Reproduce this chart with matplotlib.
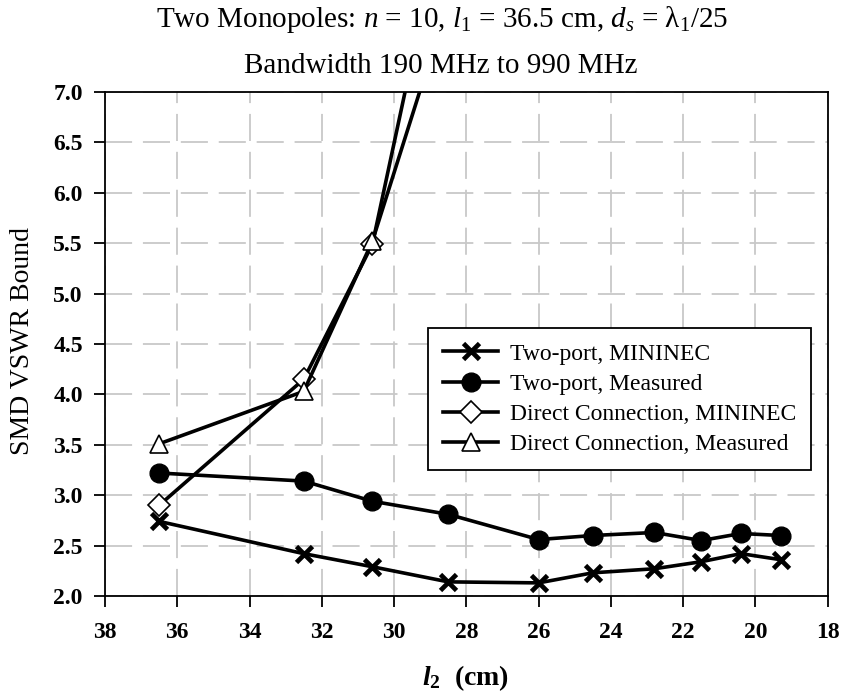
import matplotlib
matplotlib.use("Agg")
import matplotlib.pyplot as plt

plt.rcParams['font.family'] = ['Liberation Serif', 'DejaVu Serif']
plt.rcParams['mathtext.fontset'] = 'custom'
plt.rcParams['mathtext.rm'] = 'Liberation Serif'
plt.rcParams['mathtext.it'] = 'Liberation Serif:italic'
plt.rcParams['mathtext.bf'] = 'Liberation Serif:bold'
plt.rcParams['mathtext.bfit'] = 'Liberation Serif:bold:italic'

# data
l2_twoport = [36.5, 32.5, 30.6, 28.5, 26.0, 24.5, 22.8, 21.5, 20.4, 19.3]
twoport_mininec = [2.74, 2.42, 2.29, 2.14, 2.13, 2.23, 2.27, 2.34, 2.42, 2.36]
twoport_measured = [3.22, 3.14, 2.94, 2.81, 2.56, 2.60, 2.63, 2.55, 2.62, 2.60]

l2_direct = [36.5, 32.5, 30.6, 28.5]
direct_mininec = [2.90, 4.15, 5.49, 9.0]
direct_measured = [3.51, 4.03, 5.52, 7.9]

labels = ['Two-port, MININEC', 'Two-port, Measured',
          'Direct Connection, MININEC', 'Direct Connection, Measured']

xticks = [38, 36, 34, 32, 30, 28, 26, 24, 22, 20, 18]
yticks = [2.0, 2.5, 3.0, 3.5, 4.0, 4.5, 5.0, 5.5, 6.0, 6.5, 7.0]

fig = plt.figure(figsize=(8.44, 6.96), dpi=100)
ax = fig.add_axes([0.1244, 0.1437, 0.8563, 0.7241])

lw = 2.6
ax.plot(l2_twoport, twoport_mininec, color='black', lw=lw, marker='x',
        ms=12, mew=3.4, label=labels[0], zorder=3)
ax.plot(l2_twoport, twoport_measured, color='black', lw=lw, marker='o',
        ms=13.5, mfc='black', mec='black', label=labels[1], zorder=3)
ax.plot(l2_direct, direct_mininec, color='black', lw=lw, marker='D',
        ms=11.5, mfc='white', mec='black', mew=1.2, label=labels[2], zorder=3)
ax.plot(l2_direct, direct_measured, color='black', lw=lw, marker='^',
        ms=13, mfc='white', mec='black', mew=1.2, label=labels[3], zorder=3)

ax.set_xlim(38, 18)
ax.set_ylim(2.0, 7.0)
ax.set_xticks(xticks)
ax.set_yticks(yticks)
ax.set_xticklabels([str(t) for t in xticks], fontsize=17, fontweight='bold')
ax.set_yticklabels(['%.1f' % t for t in yticks], fontsize=17, fontweight='bold')
ax.tick_params(direction='out', length=8, width=1.3)
ax.tick_params(axis='x', pad=11)
ax.tick_params(axis='y', pad=8)
for s in ax.spines.values():
    s.set_linewidth(1.3)

ax.grid(True, color='#c8c8c8', lw=1.3, linestyle=(0, (15, 6)))
ax.set_axisbelow(True)

leg = ax.legend(loc='upper left', bbox_to_anchor=(0.447, 0.532),
                fontsize=17, frameon=True, fancybox=False, framealpha=1,
                edgecolor='black', borderaxespad=0, handlelength=2.3,
                handletextpad=0.5, labelspacing=0.36, borderpad=0.65)
leg.get_frame().set_linewidth(1.3)

fig.text(0.524, 0.961,
         r'Two Monopoles: $n$ = 10, $l_1$ = 36.5 cm, $d_s$ = λ$_1$/25',
         ha='center', va='baseline', fontsize=21)
fig.text(0.522, 0.895, 'Bandwidth 190 MHz to 990 MHz',
         ha='center', va='baseline', fontsize=21)
fig.text(0.027, 0.51, 'SMD VSWR Bound', rotation=90, ha='center',
         va='center', fontsize=20)
fig.text(0.551, 0.016, r'$\mathbfit{l}_\mathbf{2}$  (cm)', ha='center',
         va='baseline', fontsize=20, fontweight='bold')

fig.savefig('out.png', dpi=100)
